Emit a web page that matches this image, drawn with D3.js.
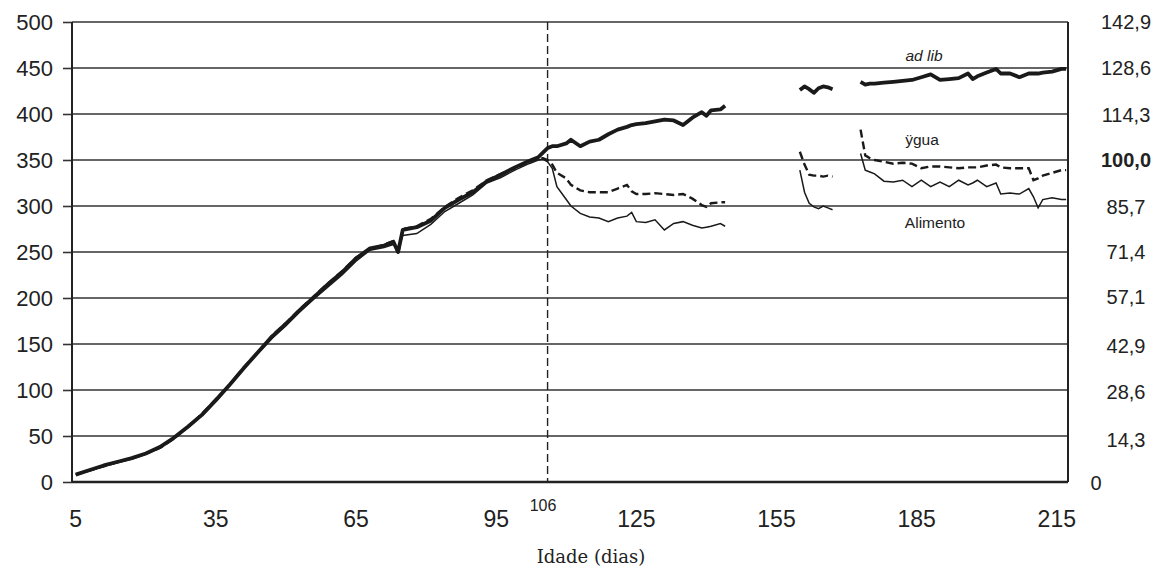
<!DOCTYPE html>
<html>
<head lang="pt">
  <meta charset="UTF-8">
  <title>Idade (dias)</title>
  <script src="https://cdn.jsdelivr.net/npm/d3@7"></script>
</head>
<style>
  body { margin: 0; background: #fff; }
  #chart text { font-family: "Liberation Sans", Arial, sans-serif; fill: #222; }
  #chart .grid line { stroke: #333; stroke-width: 1.6; }
</style>
<body>

<svg id="chart" width="1160" height="567"></svg>

<script>
  // Data
  var days = [5, 8, 11, 14, 17, 20, 23, 26, 29, 32, 35, 38, 41, 44, 47, 50, 53, 56, 59, 62,
    65, 68, 71, 73, 74, 75, 78, 81, 84, 87, 90, 93, 96, 99, 102, 104, 105, 106, 107, 108,
    110, 111, 113, 115, 117, 119, 121, 123, 124, 125, 127, 129, 131, 133, 135, 137, 139, 140, 141, 143,
    144, 150, 160, 161, 162, 163, 164, 165, 166, 167, 170, 173, 174, 175, 176, 178, 180, 182, 184, 186,
    188, 190, 192, 194, 196, 197, 198, 200, 202, 203, 205, 207, 209, 210, 211, 212, 214, 216, 217];

  var adLib = [8, 13, 18, 22, 26, 31, 38, 48, 60, 73, 89, 106, 124, 141, 158, 172, 187, 201, 215, 228,
    243, 254, 257, 261, 250, 274, 277, 284, 298, 307, 315, 327, 334, 342, 349, 353, 358, 363, 365, 365,
    368, 372, 365, 370, 372, 378, 383, 386, 388, 389, 390, 392, 394, 393, 388, 396, 402, 398, 404, 405,
    409, null, 426, 430, 427, 423, 428, 430, 429, 427, null, 435, 432, 433, 433, 434, 435, 436, 437, 440,
    443, 437, 438, 439, 444, 438, 441, 445, 449, 444, 444, 440, 444, 444, 444, 445, 446, 449, 449];

  var agua = [8, 13, 17, 22, 26, 31, 37, 47, 60, 74, 90, 106, 125, 141, 159, 173, 188, 202, 216, 229,
    244, 253, 258, 262, 248, 275, 278, 286, 299, 309, 317, 328, 335, 341, 348, 352, 352, 350, 345, 336,
    330, 323, 317, 315, 315, 315, 319, 323, 316, 313, 313, 314, 313, 312, 313, 308, 301, 299, 303, 304,
    304, null, 359, 345, 334, 333, 333, 332, 333, 332, null, 383, 355, 352, 350, 348, 346, 347, 346, 341,
    343, 343, 342, 341, 342, 342, 342, 344, 345, 342, 341, 341, 341, 328, 330, 333, 336, 339, 339];

  var alimento = [8, 12, 17, 21, 25, 30, 37, 47, 59, 72, 88, 105, 123, 140, 156, 170, 185, 199, 212, 225,
    240, 252, 255, 258, 252, 268, 270, 280, 294, 303, 312, 325, 331, 339, 346, 350, 351, 348, 341, 321,
    307, 300, 292, 288, 287, 283, 287, 289, 293, 283, 282, 285, 274, 281, 283, 279, 276, 277, 278, 281,
    278, null, 339, 315, 303, 299, 297, 300, 298, 296, null, 357, 339, 337, 335, 327, 326, 328, 321, 328,
    321, 326, 321, 328, 323, 325, 328, 321, 325, 313, 314, 313, 319, 310, 298, 307, 309, 307, 307];

  var xTicks = [5, 35, 65, 95, 125, 155, 185, 215];
  var yTicks = [0, 50, 100, 150, 200, 250, 300, 350, 400, 450, 500];
  var rightLabels = ['0', '14,3', '28,6', '42,9', '57,1', '71,4', '85,7', '100,0', '114,3', '128,6', '142,9'];
  var markerDay = 106;

  // Layout
  var plotLeft = 72, plotRight = 1068, plotTop = 22, plotBottom = 482;
  var rightNudgeY = [1, 4, 2, 2, -1, 0, 1, 0, 1, 0, 0];

  var chart = d3.select('#chart');

  var x = d3.scaleLinear().domain([4.2, 217.4]).range([plotLeft, plotRight]);
  var y = d3.scaleLinear().domain([0, 500]).range([plotBottom, plotTop]);

  // Gridlines
  chart.append('g').attr('class', 'grid')
    .selectAll('line')
    .data(yTicks.filter(function (d) { return d > 0; }))
    .enter().append('line')
      .attr('x1', plotLeft).attr('x2', plotRight)
      .attr('y1', y).attr('y2', y);

  // Left axis
  var yAxis = chart.append('g')
    .attr('transform', 'translate(' + plotLeft + ',0)')
    .call(d3.axisLeft(y).tickValues(yTicks).tickSize(9).tickPadding(10).tickFormat(d3.format('d')));
  yAxis.select('.domain').remove();
  yAxis.selectAll('line').attr('stroke', '#333').attr('stroke-width', 1.6);
  yAxis.selectAll('text').style('font-size', '22px');

  // Frame
  chart.append('line').attr('x1', plotLeft).attr('x2', plotLeft).attr('y1', plotTop).attr('y2', plotBottom)
    .attr('stroke', '#222').attr('stroke-width', 2);
  chart.append('line').attr('x1', plotRight).attr('x2', plotRight).attr('y1', plotTop).attr('y2', plotBottom)
    .attr('stroke', '#222').attr('stroke-width', 2);
  chart.append('line').attr('x1', plotLeft).attr('x2', plotRight).attr('y1', plotBottom).attr('y2', plotBottom)
    .attr('stroke', '#222').attr('stroke-width', 2.5);

  // Right labels
  chart.append('g').selectAll('text')
    .data(rightLabels)
    .enter().append('text')
      .attr('x', function (d) { return d === '0' ? 1096 : 1126; })
      .attr('y', function (d, i) { return y(yTicks[i]) + rightNudgeY[i]; })
      .attr('dy', '0.35em')
      .attr('text-anchor', 'middle')
      .style('font-size', '20px')
      .style('font-weight', function (d) { return d === '100,0' ? 'bold' : 'normal'; })
      .text(function (d) { return d; });

  // Bottom labels
  chart.append('g').selectAll('text')
    .data(xTicks)
    .enter().append('text')
      .attr('x', x)
      .attr('y', 527)
      .attr('text-anchor', 'middle')
      .style('font-size', '23px')
      .text(function (d) { return d; });

  chart.append('text')
    .attr('x', 543).attr('y', 511)
    .attr('text-anchor', 'middle')
    .style('font-size', '16px')
    .text(markerDay);

  chart.append('text')
    .attr('x', 591).attr('y', 563)
    .attr('text-anchor', 'middle')
    .style('font-family', '"DejaVu Serif", "Liberation Serif", serif')
    .style('font-size', '18px')
    .text('Idade (dias)');

  // Vertical marker
  chart.append('line')
    .attr('x1', x(markerDay)).attr('x2', x(markerDay))
    .attr('y1', plotTop).attr('y2', plotBottom)
    .attr('stroke', '#222').attr('stroke-width', 1.4)
    .attr('stroke-dasharray', '8,4');

  // Series
  function seriesLine(values) {
    return d3.line()
      .defined(function (d, i) { return values[i] !== null; })
      .x(function (d, i) { return x(days[i]); })
      .y(function (d, i) { return y(values[i]); })(days);
  }

  chart.append('path').attr('d', seriesLine(alimento))
    .attr('fill', 'none').attr('stroke', '#1a1a1a').attr('stroke-width', 1.5);
  chart.append('path').attr('d', seriesLine(agua))
    .attr('fill', 'none').attr('stroke', '#1a1a1a').attr('stroke-width', 2.4)
    .attr('stroke-dasharray', '8,4');
  chart.append('path').attr('d', seriesLine(adLib))
    .attr('fill', 'none').attr('stroke', '#1a1a1a').attr('stroke-width', 3.8)
    .attr('stroke-linejoin', 'round');

  // Series labels
  chart.append('text').attr('x', 924).attr('y', 61).attr('text-anchor', 'middle')
    .style('font-size', '15.5px').style('font-style', 'italic').text('ad lib');
  chart.append('text').attr('x', 922).attr('y', 145).attr('text-anchor', 'middle')
    .style('font-size', '15.5px').text('ÿgua');
  chart.append('text').attr('x', 935).attr('y', 228).attr('text-anchor', 'middle')
    .style('font-size', '15.5px').text('Alimento');
</script>
</body>
</html>
